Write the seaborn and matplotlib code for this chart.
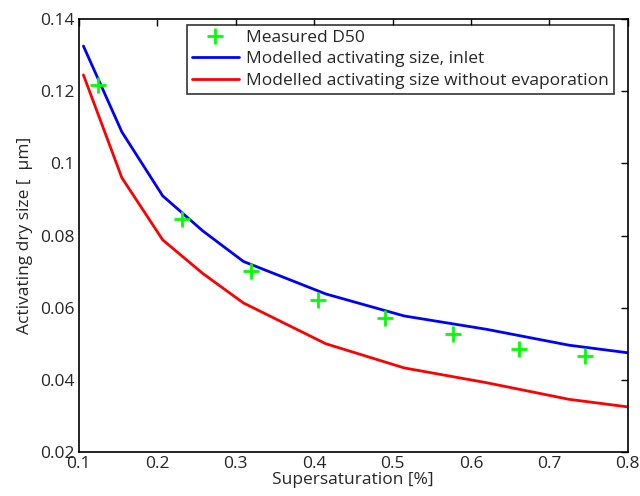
import matplotlib
matplotlib.use("Agg")
import matplotlib.pyplot as plt
import seaborn as sns
import pandas as pd

# measured D50 (green crosses)
ss_meas = [0.125, 0.232, 0.320, 0.405, 0.490, 0.577, 0.661, 0.745]
d50_meas = [0.1218, 0.0845, 0.0703, 0.0622, 0.0572, 0.0527, 0.0486, 0.0465]

# modelled curves
ss_model = [0.106, 0.155, 0.207, 0.258, 0.310, 0.415, 0.515, 0.620, 0.725, 0.800]
d_inlet = [0.1325, 0.1087, 0.0910, 0.0813, 0.0728, 0.0638, 0.0577, 0.0540, 0.0496, 0.0475]
d_noevap = [0.1245, 0.0960, 0.0788, 0.0695, 0.0613, 0.0500, 0.0433, 0.0392, 0.0346, 0.0325]

sns.set_style("white")
plt.rcParams["font.family"] = ["Open Sans", "DejaVu Sans"]
txt = "#262626"

fig = plt.figure(figsize=(6.4, 4.96), dpi=100)
ax = fig.add_axes([0.123, 0.0887, 0.858, 0.873])

meas = pd.DataFrame({"ss": ss_meas, "d": d50_meas})
model = pd.DataFrame({"ss": ss_model, "inlet": d_inlet, "noevap": d_noevap})

sns.lineplot(data=model, x="ss", y="inlet", color="#0000ff", lw=2, sort=False,
             ax=ax, label="Modelled activating size, inlet", zorder=2)
sns.lineplot(data=model, x="ss", y="noevap", color="#ff0000", lw=2, sort=False,
             ax=ax, label="Modelled activating size without evaporation", zorder=2)
ax.plot(meas["ss"], meas["d"], ls="none", marker="+", color="#00ff00",
        ms=11, mew=2, label="Measured D50", zorder=3)

ax.set_xlim(0.1, 0.8)
ax.set_ylim(0.02, 0.14)
ax.set_xticks([0.1, 0.2, 0.3, 0.4, 0.5, 0.6, 0.7, 0.8])
ax.set_yticks([0.02, 0.04, 0.06, 0.08, 0.1, 0.12, 0.14])
ax.set_xticklabels(["0.1", "0.2", "0.3", "0.4", "0.5", "0.6", "0.7", "0.8"])
ax.set_yticklabels(["0.02", "0.04", "0.06", "0.08", "0.1", "0.12", "0.14"])
ax.tick_params(direction="in", top=True, right=True, length=5, width=1,
               labelsize=12.5, colors="black", labelcolor=txt, pad=3)
for s in ax.spines.values():
    s.set_color("black")
    s.set_linewidth(1.2)

ax.set_xlabel("Supersaturation [%]", fontsize=12.5, color=txt, labelpad=0)
ax.set_ylabel("Activating dry size [  μm]", fontsize=12.5, color=txt, labelpad=5)

h, l = ax.get_legend_handles_labels()
order = [2, 0, 1]
leg = ax.legend([h[i] for i in order], [l[i] for i in order], loc="upper right",
                bbox_to_anchor=(0.974, 0.987), fontsize=12.5, frameon=True, fancybox=False,
                edgecolor="black", handlelength=2.7, handletextpad=0.4,
                borderpad=0.3, labelspacing=0.3, borderaxespad=0)
leg.get_frame().set_linewidth(1.2)
for t in leg.get_texts():
    t.set_color(txt)

fig.savefig("out.png", dpi=100)
